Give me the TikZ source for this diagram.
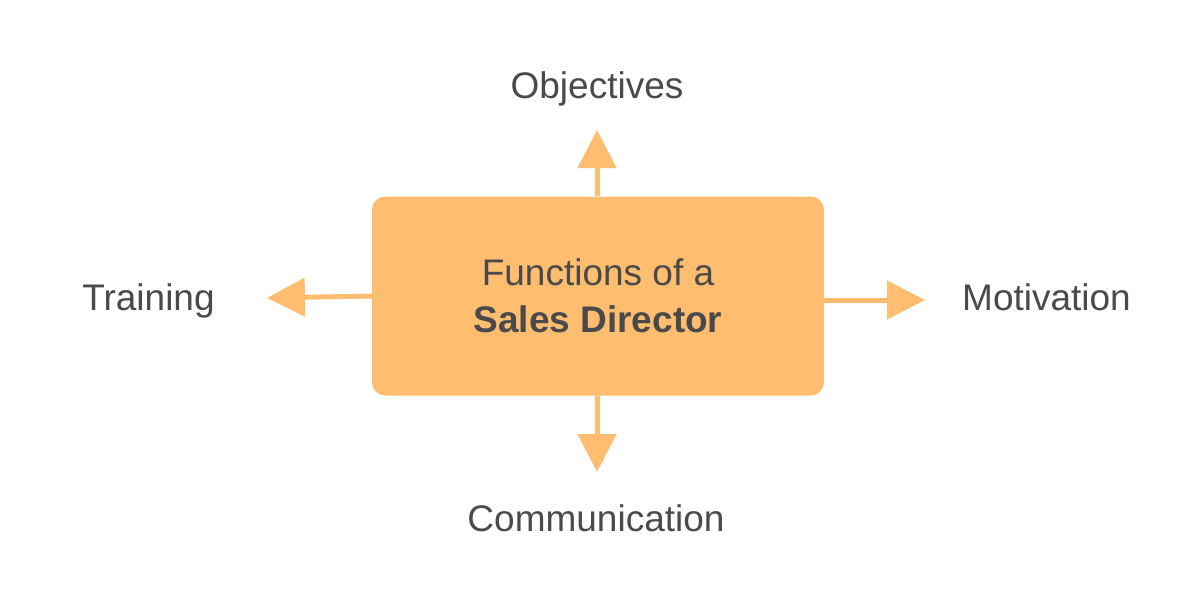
\documentclass[tikz,border=0pt]{standalone}
\usepackage{fontspec}
\setmainfont{Liberation Sans}
\usetikzlibrary{arrows.meta}
\definecolor{boxorange}{RGB}{254,189,111}
\definecolor{labelgray}{RGB}{74,74,74}
\tikzset{
	funcbox/.style={fill=boxorange,rounded corners=13pt,minimum width=452pt,minimum height=199pt,
		align=center,text=labelgray,font=\fontsize{37}{47}\selectfont},
	funclabel/.style={anchor=base,text=labelgray,font=\fontsize{37}{44}\selectfont},
	funcarrow/.style={draw=boxorange,line width=5pt,-{Triangle[length=38pt,width=38pt]}}
}
\begin{document}
\begin{tikzpicture}[x=1pt,y=-1pt]
		\useasboundingbox (0,0) rectangle (1200,602);
		\node[funcbox] (dir) at (598,296) {Functions of a\\\textbf{Sales Director}};
		% free ends of the arrows
		\coordinate (tipN) at (597,130);
		\coordinate (tipS) at (597,472);
		\coordinate (tipW) at (267,298);
		\coordinate (tipE) at (925,300);
		\draw[funcarrow] (dir.north -| tipN) -- (tipN);
		\draw[funcarrow] (dir.south -| tipS) -- (tipS);
		\draw[funcarrow] (dir.west) -- (tipW);
		\draw[funcarrow] (dir.east |- tipE) -- (tipE);
		% labels
		\node[funclabel] (obj) at (597,99) {Objectives};
		\node[funclabel] (com) at (596,531) {Communication};
		\node[funclabel] (tra) at (148.5,310) {Training};
		\node[funclabel] (mot) at (1046.5,310) {Motivation};
\end{tikzpicture}
\end{document}
